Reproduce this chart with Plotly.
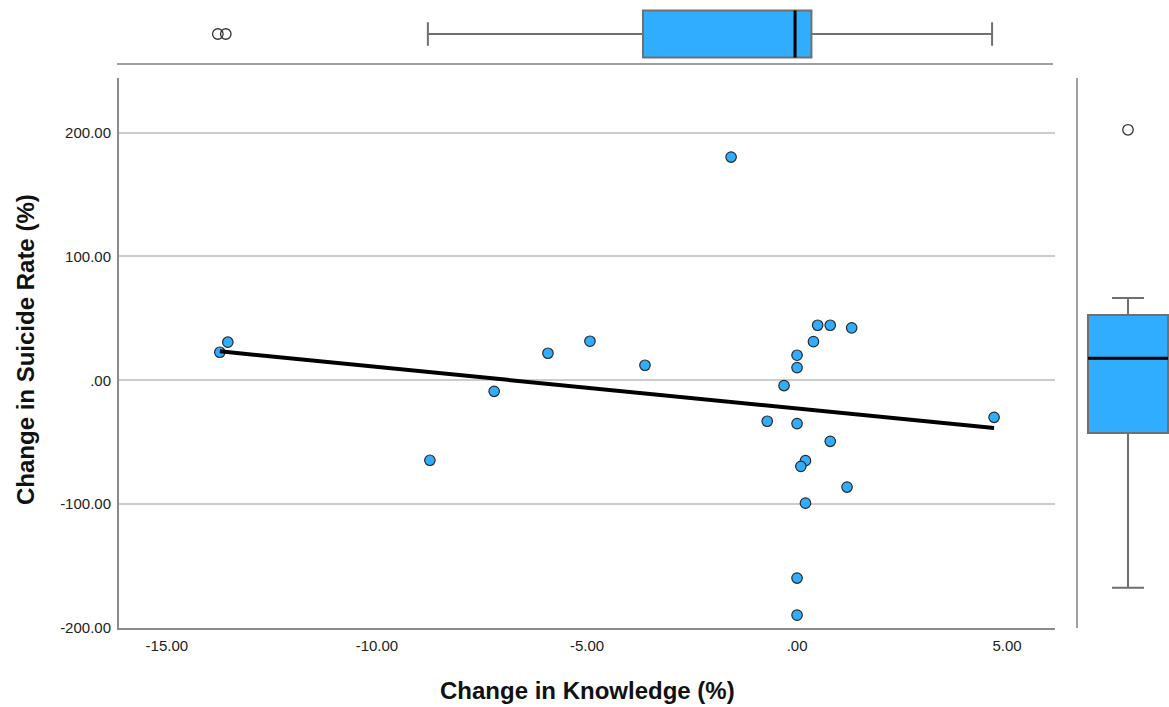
import numpy as np
import plotly.graph_objects as go

# Change in knowledge (%) and change in suicide rate (%) per unit
knowledge_change = [-13.74, -13.55, -8.74, -7.21, -5.93, -4.93, -3.62, -1.57,
                    0.49, 0.79, 1.30, 0.39, 0.00, 0.00, -0.31, -0.71, 0.00,
                    0.79, 0.20, 0.09, 1.19, 0.20, 4.69, 0.00, 0.00]
suicide_change = [22.6, 30.7, -64.6, -8.9, 21.8, 31.5, 12.1, 180.2,
                  44.4, 44.4, 42.3, 31.2, 20.2, 10.2, -4.3, -33.1, -35.0,
                  -49.3, -64.9, -69.5, -86.2, -99.2, -29.9, -159.7, -189.6]

x_ticks = [-15, -10, -5, 0, 5]
x_tick_text = ["-15.00", "-10.00", "-5.00", ".00", "5.00"]
y_ticks = [-200, -100, 0, 100, 200]
y_tick_text = ["-200.00", "-100.00", ".00", "100.00", "200.00"]

BLUE = "#31adff"
GREY = "#707070"
W, H = 1169, 707
FONT = "Liberation Sans, Arial, sans-serif"

xv = np.array(knowledge_change)
yv = np.array(suicide_change)

fig = go.Figure()

# Scatter of the paired changes
fig.add_trace(go.Scatter(
    x=xv, y=yv, mode="markers",
    marker=dict(color=BLUE, size=10.5, line=dict(color="#2a2a2a", width=1.2)),
    xaxis="x", yaxis="y", showlegend=False, hoverinfo="x+y"))

# Least-squares fit line
slope, intercept = np.polyfit(xv, yv, 1)
fit_x = np.array([xv.min(), xv.max()])
fig.add_trace(go.Scatter(
    x=fit_x, y=slope * fit_x + intercept, mode="lines",
    line=dict(color="black", width=4),
    xaxis="x", yaxis="y", showlegend=False))

box_marker = dict(symbol="circle-open", color="#333333", size=10.5,
                  line=dict(width=1.3))

# Marginal box plot for knowledge change (top)
fig.add_trace(go.Box(
    x=xv, y0=0, orientation="h", width=1.62, whiskerwidth=0.5,
    fillcolor=BLUE, line=dict(color=GREY, width=2),
    boxpoints="outliers", jitter=0, pointpos=0, marker=box_marker,
    quartilemethod="inclusive",
    xaxis="x3", yaxis="y3", showlegend=False))

# Marginal box plot for suicide-rate change (right)
fig.add_trace(go.Box(
    y=yv, x0=0, width=80, whiskerwidth=0.4,
    fillcolor=BLUE, line=dict(color=GREY, width=2),
    boxpoints="outliers", jitter=0, pointpos=0, marker=box_marker,
    quartilemethod="inclusive",
    xaxis="x2", yaxis="y2", showlegend=False))

# Black median bars over the boxes
mx = float(np.median(xv))
my = float(np.median(yv))
fig.add_shape(type="line", xref="x3", yref="y3", x0=mx, x1=mx, y0=-0.81, y1=0.81,
              line=dict(color="black", width=3))
fig.add_shape(type="line", xref="x2", yref="y2", x0=-40, x1=40, y0=my, y1=my,
              line=dict(color="black", width=3))

main_xd = [119 / W, 1055 / W]
main_yd = [(H - 628) / H, (H - 78) / H]
tick_font = dict(family=FONT, size=15, color="#222222")

fig.update_layout(
    width=W, height=H,
    margin=dict(l=0, r=0, t=0, b=0, autoexpand=False),
    paper_bgcolor="white", plot_bgcolor="white",
    xaxis=dict(domain=main_xd, range=[-16.14, 6.14], anchor="y",
               automargin=False,
               tickvals=x_ticks, ticktext=x_tick_text, tickfont=tick_font,
               ticklabelstandoff=3,
               showgrid=False, zeroline=False, showline=True,
               linecolor="#8a8a8a", linewidth=2, ticks=""),
    yaxis=dict(domain=main_yd, range=[-200, 244], anchor="x",
               automargin=False,
               tickvals=y_ticks, ticktext=y_tick_text, tickfont=tick_font,
               ticklabelstandoff=3,
               showgrid=True, gridcolor="#cccccc", gridwidth=1.5,
               zeroline=False, showline=True, linecolor="#8a8a8a",
               linewidth=2, ticks=""),
    xaxis2=dict(domain=[1078 / W, 1.0], range=[-50, 41], anchor="y2",
                automargin=False, visible=False),
    yaxis2=dict(domain=main_yd, range=[-222, 222], anchor="x2",
                automargin=False,
                showline=True, linecolor="#a0a0a0", linewidth=2,
                showgrid=False, zeroline=False, showticklabels=False, ticks=""),
    xaxis3=dict(domain=[117 / W, 1053 / W], range=[-16.14, 6.14], anchor="y3",
                automargin=False,
                matches="x", showline=True, linecolor="#a0a0a0", linewidth=2,
                showgrid=False, zeroline=False, showticklabels=False, ticks=""),
    yaxis3=dict(domain=[(H - 63) / H, (H - 5) / H], range=[-1, 1], anchor="x3",
                automargin=False, visible=False),
    annotations=[
        dict(text="<b>Change in Knowledge (%)</b>", xref="paper", yref="paper",
             x=587 / W, y=(H - 690) / H, showarrow=False,
             xanchor="center", yanchor="middle",
             font=dict(family=FONT, size=24, color="#111111")),
        dict(text="<b>Change in Suicide Rate (%)</b>", xref="paper", yref="paper",
             x=25 / W, y=(H - 350) / H, showarrow=False, textangle=-90,
             xanchor="center", yanchor="middle",
             font=dict(family=FONT, size=24, color="#111111")),
    ],
)

fig.write_html("out.html")
